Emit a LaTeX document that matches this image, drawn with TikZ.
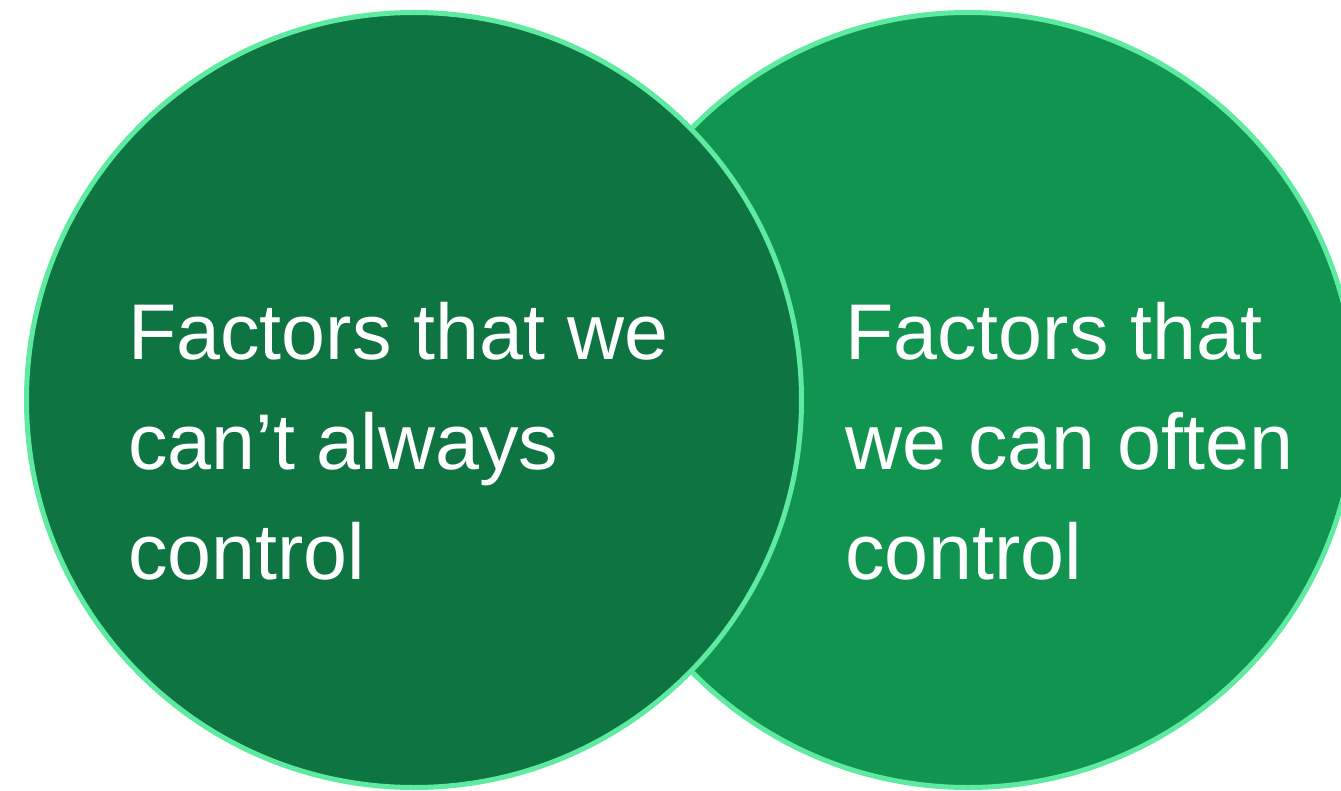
\documentclass[tikz,border=0pt]{standalone}
\usepackage{fontspec}
\setmainfont{Liberation Sans}
\usetikzlibrary{positioning}

\definecolor{deepgreen}{HTML}{0E7542}
\definecolor{midgreen}{HTML}{119450}
\definecolor{rimgreen}{HTML}{5EEAA0}

\begin{document}
\begin{tikzpicture}[
      x=1pt, y=-1pt,
      disk/.style={circle, draw=rimgreen, line width=5pt,
                   minimum size=775pt, inner sep=0pt},
      label/.style={text=white, align=left, anchor=west, inner sep=0pt,
                    font=\fontsize{79}{110}\selectfont},
    ]
      \useasboundingbox (0,0) rectangle (1341,791);

      % right circle first, the left one overlaps it
      \node[disk, fill=midgreen]  (often) at (968,400) {};
      \node[disk, fill=deepgreen] (cant)  at (414,400) {};

      \node[label] (canttxt)  at (128,441) {Factors that we\\can’t always\\control};
      \node[label] (oftentxt) at (845,441) {Factors that\\we can often\\control};
    \end{tikzpicture}
\end{document}
